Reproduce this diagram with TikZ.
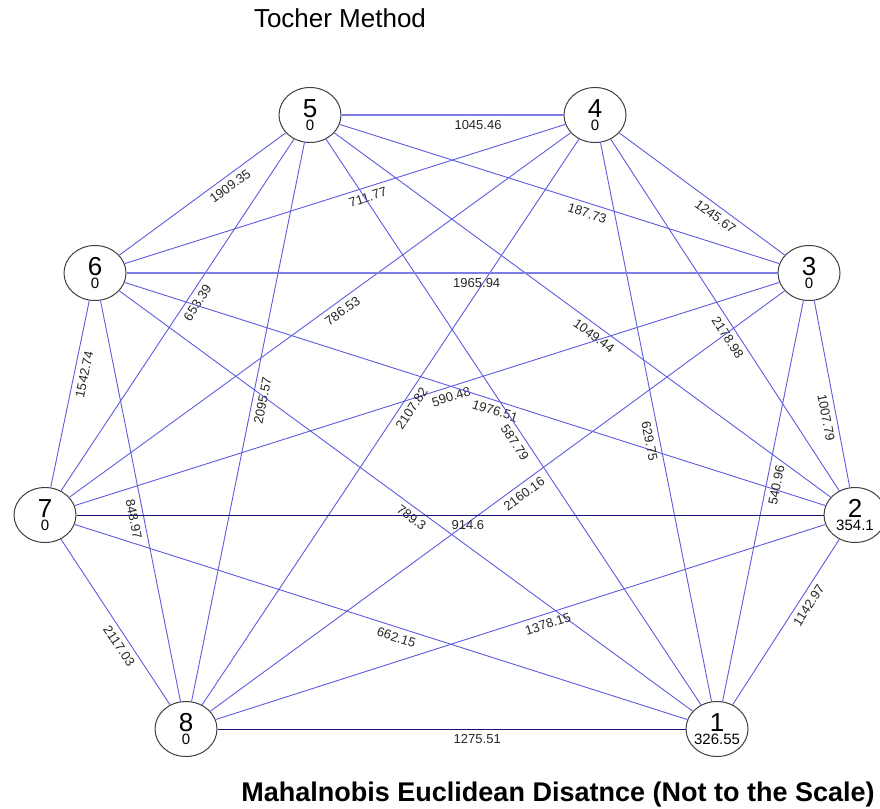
\documentclass[tikz,border=0pt]{standalone}
\usepackage{fontspec}
\setmainfont{Liberation Sans}
\usetikzlibrary{shapes.geometric}

\definecolor{edgeblue}{RGB}{92,92,222}
\definecolor{edgedark}{RGB}{20,20,120}

\tikzset{
  vtx/.style={ellipse, draw=black!75, line width=1pt, fill=white,
    minimum width=62pt, minimum height=55pt, inner xsep=-4pt, inner ysep=0pt},
  edge/.style={draw=edgeblue, line width=0.9pt},
  flatedge/.style={edge, line width=1.5pt, draw=edgeblue!80},
  elab/.style={sloped, below=4pt, inner sep=1pt, text=black!85,
    font=\fontsize{13}{13}\selectfont},
}
% number over its value, stacked tight
\newcommand{\vtxlabel}[2]{\vbox{\offinterlineskip\halign{\hfil##\hfil\cr
  \fontsize{26}{26}\selectfont #1\cr\noalign{\kern 2.3pt}
  \fontsize{15}{15}\selectfont #2\cr}}}

\begin{document}
\begin{tikzpicture}[x=1pt,y=-1pt]
  \useasboundingbox (0,0) rectangle (880,808);

  \node[anchor=base, font=\fontsize{26}{30}\selectfont] (title) at (340,28) {Tocher Method};
  \node[anchor=base, font=\fontsize{27}{30}\selectfont\bfseries] (caption) at (558,801)
    {Mahalnobis Euclidean Disatnce (Not to the Scale)};

  \node[vtx] (n1) at (717,729) {\vtxlabel{1}{326.55}};
  \node[vtx] (n2) at (855,515) {\vtxlabel{2}{354.1}};
  \node[vtx] (n3) at (809,273) {\vtxlabel{3}{0}};
  \node[vtx] (n4) at (595,115) {\vtxlabel{4}{0}};
  \node[vtx] (n5) at (310,115) {\vtxlabel{5}{0}};
  \node[vtx] (n6) at (95,273) {\vtxlabel{6}{0}};
  \node[vtx] (n7) at (45,515) {\vtxlabel{7}{0}};
  \node[vtx] (n8) at (186,729) {\vtxlabel{8}{0}};

  \foreach \a/\b/\dist/\p in {5/6/1909.35/.37, 6/4/711.77/.545,
      5/3/187.73/.57, 4/3/1245.67/.617, 7/5/653.39/.55,
      7/4/786.53/.533, 8/5/2095.57/.542, 5/2/1049.44/.535, 4/2/2178.98/.549,
      3/2/1007.79/.615, 7/6/1542.74/.617, 6/8/848.97/.54, 6/1/789.3/.52,
      7/3/590.48/.53, 6/2/1976.51/.533, 5/1/587.79/.526, 8/4/2107.82/.534,
      8/3/2160.16/.536, 4/1/629.75/.531, 1/3/540.96/.544, 7/8/2117.03/.61,
      7/1/662.15/.53, 8/2/1378.15/.54, 1/2/1142.97/.634}{
    \draw[edge] (n\a) -- node[elab, pos=\p] {\dist} (n\b);
  }
  \draw[flatedge] (n5) -- node[elab, pos=.615] {1045.46} (n4);
  \draw[flatedge, line width=1.1pt] (n6) -- node[elab, pos=.538] {1965.94} (n3);
  \draw[edge, draw=edgedark] (n7) -- node[elab, pos=.524] {914.6} (n2);
  \draw[edge, draw=edgedark] (n8) -- node[elab, pos=.555] {1275.51} (n1);
\end{tikzpicture}
\end{document}
